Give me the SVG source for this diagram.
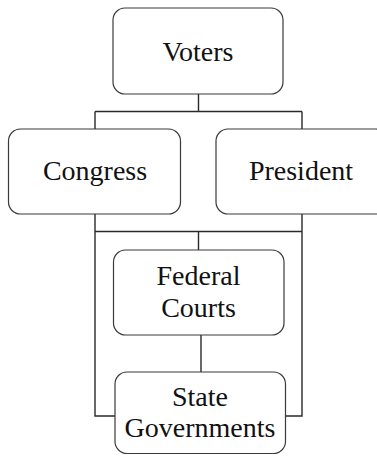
<svg xmlns="http://www.w3.org/2000/svg" width="377" height="456" viewBox="0 0 377 456">
<style>
.box{fill:#fff;stroke:#3a3a3a;stroke-width:1.2}
.lbl{font-size:28px;fill:#111;text-anchor:middle}
.conn{fill:none;stroke:#2a2a2a;stroke-width:1.4}
</style>
<rect width="377" height="456" fill="#fff"/>
<g id="connectors">
<path class="conn" d="M198.5 94V111.5M95 111.5H302M95 111.5V129M302 111.5V129"/>
<path class="conn" d="M95 214V416H115M302 214V416H285.5M95 231.5H302M198.5 231.5V250"/>
<path class="conn" d="M201 335V372"/>
</g>
<g font-family="Liberation Serif, Times New Roman, Tinos, DejaVu Serif, serif">
<g id="voters">
<rect class="box" x="113" y="8" width="170" height="86" rx="12"/>
<text class="lbl" x="198" y="61">Voters</text>
</g>
<g id="congress">
<rect class="box" x="8.5" y="129" width="172" height="85" rx="12"/>
<text class="lbl" x="95" y="180">Congress</text>
</g>
<g id="president">
<rect class="box" x="216" y="129" width="172" height="85" rx="12"/>
<text class="lbl" x="301" y="180">President</text>
</g>
<g id="federal-courts">
<rect class="box" x="113.5" y="250" width="170.5" height="85" rx="12"/>
<text class="lbl" x="198.5" y="285">Federal</text>
<text class="lbl" x="198.5" y="317">Courts</text>
</g>
<g id="state-governments">
<rect class="box" x="115" y="372" width="170.5" height="81.5" rx="12"/>
<text class="lbl" x="200" y="406">State</text>
<text class="lbl" x="200" y="437">Governments</text>
</g>
</g>
</svg>
